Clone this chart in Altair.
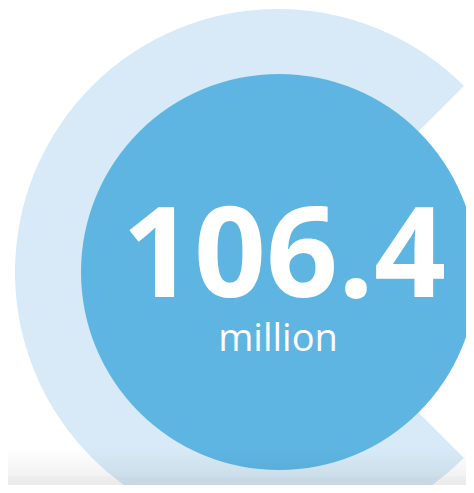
import math
import altair as alt
import pandas as pd

# ---- data ----
headline_value = ["106.4"]
unit_label = ["million"]
ring_start_deg = [135]   # light ring sector start (clockwise from 12 o'clock)
ring_end_deg = [405]     # light ring sector end

W, H = 458, 477
CX, CY = 270, 264

ring_df = pd.DataFrame({"start": ring_start_deg, "end": ring_end_deg})
value_df = pd.DataFrame({"label": headline_value})
unit_df = pd.DataFrame({"label": unit_label})
one = pd.DataFrame({"k": [0]})

theta_scale = alt.Scale(domain=[0, 360], range=[0, 2 * math.pi])

ring = alt.Chart(ring_df).mark_arc(radius=263, color="#D8EAF7").encode(
    theta=alt.Theta("start:Q", scale=theta_scale),
    theta2="end:Q",
    x=alt.value(CX),
    y=alt.value(CY),
)

disk = alt.Chart(one).mark_arc(radius=198, color="#5EB5E2", theta=0, theta2=2 * math.pi).encode(
    x=alt.value(CX + 1),
    y=alt.value(CY),
)

big = alt.Chart(value_df).mark_text(
    font="Open Sans", fontWeight="bold", fontSize=126, color="white",
    align="center", baseline="alphabetic",
).encode(text="label:N", x=alt.value(276), y=alt.value(289))

small = alt.Chart(unit_df).mark_text(
    font="Open Sans", fontWeight="normal", fontSize=38, color="white",
    align="center", baseline="alphabetic",
).encode(text="label:N", x=alt.value(270), y=alt.value(343))

shade = alt.Chart(one).mark_rect(
    fill=alt.LinearGradient(
        gradient="linear",
        stops=[
            alt.GradientStop(color="rgba(0,0,0,0)", offset=0),
            alt.GradientStop(color="rgba(0,0,0,0.05)", offset=0.75),
            alt.GradientStop(color="rgba(0,0,0,0.07)", offset=0.8),
            alt.GradientStop(color="rgba(0,0,0,0.08)", offset=1),
        ],
        x1=0, x2=0, y1=0, y2=1,
    )
).encode(x=alt.value(0), x2=alt.value(W), y=alt.value(440), y2=alt.value(H))

chart = alt.layer(ring, disk, big, small, shade).properties(
    width=W, height=H, padding=0, autosize=alt.AutoSizeParams(type="none"),
    background="white",
).configure_view(stroke=None)

chart.save("out.html", embed_options={"renderer": "svg", "actions": False})
